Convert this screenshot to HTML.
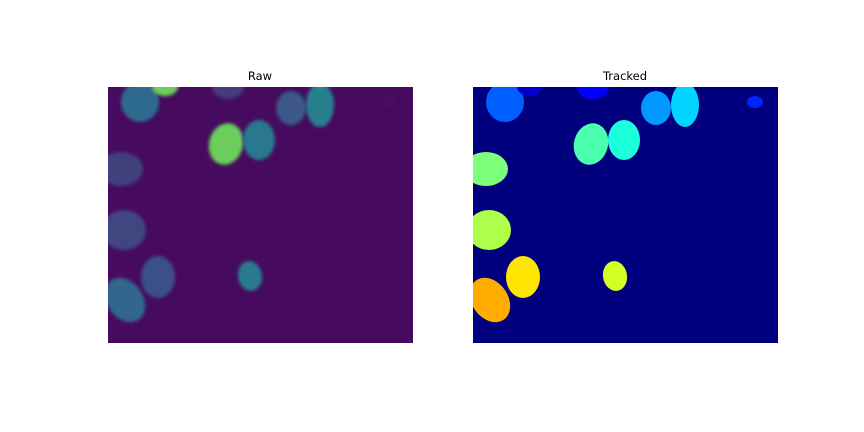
<!DOCTYPE html>
<html><head><meta charset="utf-8"><style>
body{margin:0;background:#fff;}
svg{display:block;font-family:"DejaVu Sans","Liberation Sans",sans-serif;}
</style></head><body>
<svg id="fig" width="864" height="432" viewBox="0 0 864 432">
<defs>
<clipPath id="cp"><rect x="0" y="0" width="305" height="256"/></clipPath>
<filter id="bl" x="-50%" y="-50%" width="200%" height="200%"><feGaussianBlur stdDeviation="1.6"/></filter>
</defs>
<text x="260" y="80" font-size="11.5" text-anchor="middle">Raw</text>
<text x="625" y="80" font-size="11.5" text-anchor="middle">Tracked</text>
<g id="raw" transform="translate(108,87)" clip-path="url(#cp)">
<rect width="305" height="256" fill="#460b5e"/>
</g>
<g id="trk" transform="translate(473,87)" clip-path="url(#cp)">
<rect width="305" height="256" fill="#00007f"/>
</g>
</svg>
<script>
const cellX=[32,57,120,183,212,282,118,151,13,16,50,142,17];
const cellY=[15,0,0,21,18,15,57,53,82,143,190,189,213];
const cellRX=[19,13,16,15,14,8,17,16,22,22,17,12,18];
const cellRY=[20,9,12,17,22,6,21,20,17,20,21,15,24];
const cellRot=[0,0,0,0,0,0,15,0,0,0,0,-10,-35];
const trackColor=['#0060ff','#0000c8','#0000ff','#0098ff','#00d4ff','#0024ff','#4affad','#1cffdb','#7dff7a','#adff4a','#ffe600','#d4ff23','#ffab00'];
const rawColor=['#2e6a8e','#6ccd5a','#453a7e','#3b5888','#25808e','#460b5e','#6acd5b','#2c788e','#413f7c','#414680','#3b4f88','#2a7a8e','#31668d'];
const NS='http://www.w3.org/2000/svg';
function ell(g,i,fill,blur){
  const e=document.createElementNS(NS,'ellipse');
  e.setAttribute('cx',cellX[i]);e.setAttribute('cy',cellY[i]);
  e.setAttribute('rx',cellRX[i]);e.setAttribute('ry',cellRY[i]);
  e.setAttribute('transform','rotate('+cellRot[i]+' '+cellX[i]+' '+cellY[i]+')');
  e.setAttribute('fill',fill);
  if(blur)e.setAttribute('filter','url(#bl)');
  
  
  g.appendChild(e);
}
const raw=document.getElementById('raw'),trk=document.getElementById('trk');
for(let i=0;i<cellX.length;i++){ell(raw,i,rawColor[i],true);ell(trk,i,trackColor[i],false);}
</script>
</body></html>
